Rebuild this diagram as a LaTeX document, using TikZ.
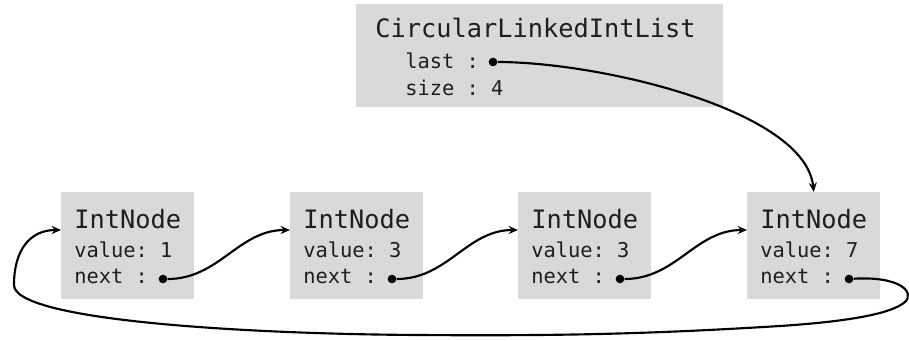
\documentclass[tikz,border=0pt]{standalone}
\usepackage{fontspec}
\setmonofont{DejaVu Sans Mono}
\usetikzlibrary{calc,arrows.meta}
\definecolor{boxgray}{RGB}{217,217,217}
\definecolor{ink}{RGB}{30,30,30}

\begin{document}
\begin{tikzpicture}[x=0.75pt,y=-0.75pt,
 box/.style={fill=boxgray,minimum width=99.75pt,minimum height=80.25pt,inner sep=0,anchor=north west},
 big/.style={anchor=base west,inner sep=0,text=ink,font=\ttfamily\fontsize{19}{22}\selectfont},
 small/.style={anchor=base west,inner sep=0,text=ink,font=\ttfamily\fontsize{15.3}{18}\selectfont},
 ptrdot/.style={circle,fill=black,inner sep=0,minimum size=6.5pt},
 ptr/.style={line width=1.6pt,-{Stealth[length=7pt,width=6pt]}}]
\useasboundingbox (0,0) rectangle (909,340);
\node[box,minimum width=275.25pt,minimum height=77.25pt] (list) at (356,4) {};
\node[big] (tl) at (375,37) {CircularLinkedIntList};
\node[small] (last) at (405,68) {last :};
\node[small] (size) at (405,95) {size : 4};
\node[ptrdot] (dl) at (493,62) {};
\node[box] (n1) at (61,192) {};
\node[big] (t1) at (74,228) {IntNode};
\node[small] (v1) at (74,257) {value: 1};
\node[small] (x1) at (74,283) {next :};
\node[ptrdot] (d1) at (163,279) {};
\node[box] (n2) at (290,192) {};
\node[big] (t2) at (303,228) {IntNode};
\node[small] (v2) at (303,257) {value: 3};
\node[small] (x2) at (303,283) {next :};
\node[ptrdot] (d2) at (392,279) {};
\node[box] (n3) at (518,192) {};
\node[big] (t3) at (531,228) {IntNode};
\node[small] (v3) at (531,257) {value: 3};
\node[small] (x3) at (531,283) {next :};
\node[ptrdot] (d3) at (620,279) {};
\node[box] (n4) at (747,192) {};
\node[big] (t4) at (760,228) {IntNode};
\node[small] (v4) at (760,257) {value: 7};
\node[small] (x4) at (760,283) {next :};
\node[ptrdot] (d4) at (849,279) {};
\draw[ptr] (dl) .. controls (600,62) and (805,110) .. (n4.north);
\draw[ptr] (d1) to[out=0,in=180] ($(n2.north west)+(0,38)$);
\draw[ptr] (d2) to[out=0,in=180] ($(n3.north west)+(0,38)$);
\draw[ptr] (d3) to[out=0,in=180] ($(n4.north west)+(0,38)$);
\draw[ptr] (d4) .. controls (900,276) and (915,292) .. (905,302) .. controls (890,315) and (840,322) .. (780,326) .. controls (650,334) and (560,336) .. (420,335) .. controls (240,334) and (14,320) .. (14,285) .. controls (14,250) and (30,230) .. ($(n1.north west)+(0,38)$);
\end{tikzpicture}
\end{document}
